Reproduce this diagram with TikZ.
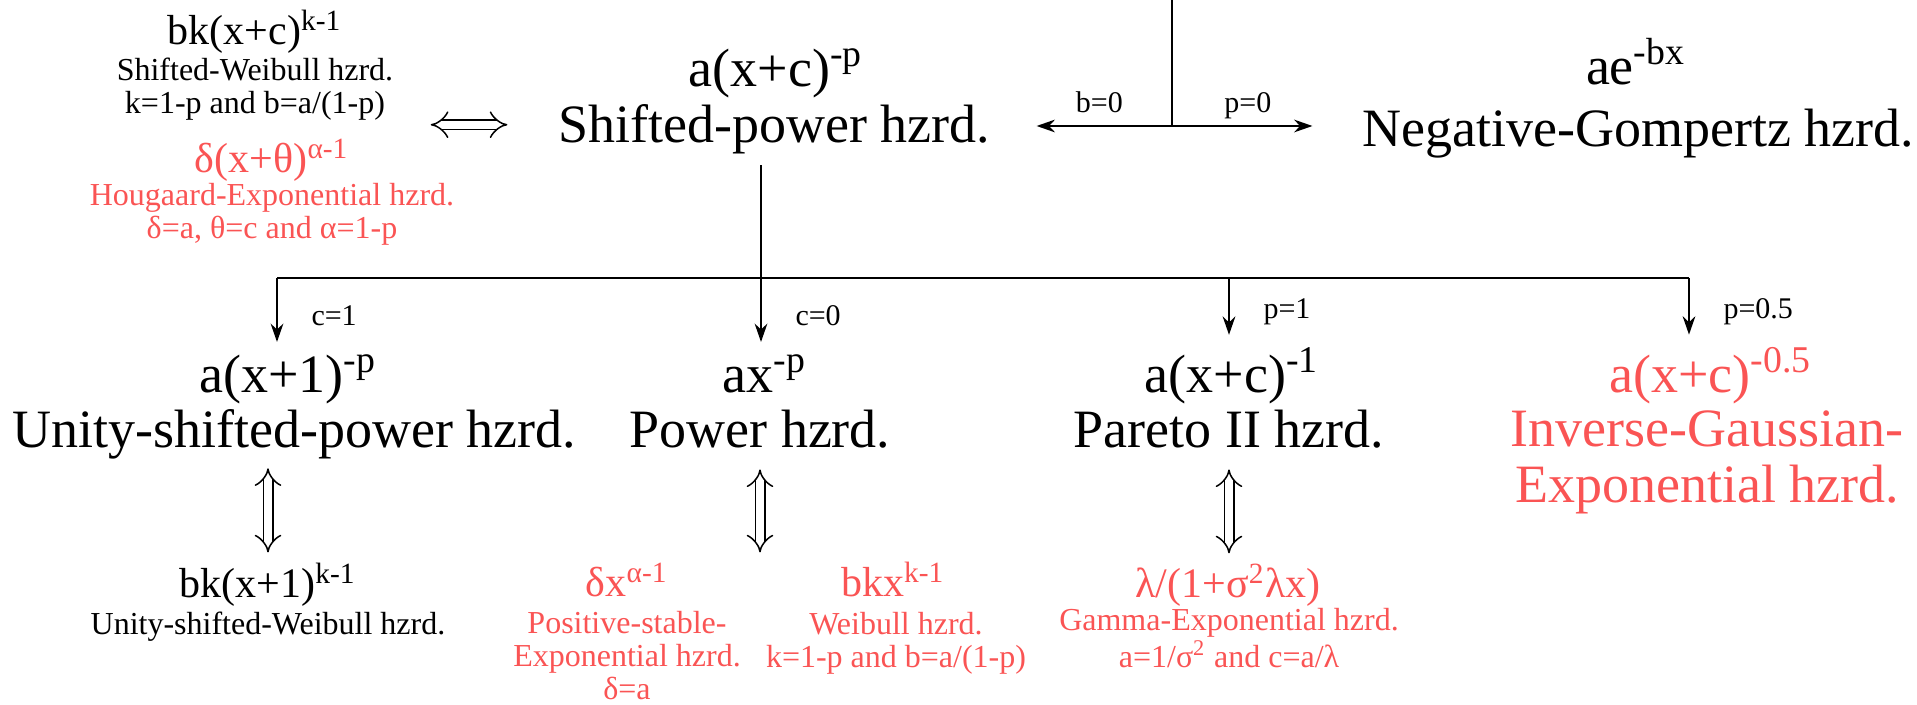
\documentclass[tikz,border=0pt]{standalone}
\usepackage{fontspec}
\setmainfont{Liberation Serif}
\usepackage{xcolor}
\usetikzlibrary{arrows.meta}
\definecolor{hz-red}{RGB}{250,84,84}

\begin{document}
\begin{tikzpicture}[x=0.3pt, y=-0.3pt,
  every node/.style={inner sep=0pt},
  fbig/.style={anchor=base, font=\fontsize{16.2}{16.8}\selectfont},
  fmid/.style={anchor=base, font=\fontsize{12.6}{13}\selectfont},
  fsmall/.style={anchor=base, align=center, font=\fontsize{9.6}{9.9}\selectfont},
  cond/.style={font=\fontsize{9}{10}\selectfont},
  alt/.style={text=hz-red},
  arr/.style={-{Stealth[length=5.5pt,width=3.8pt]}, line width=0.7pt},
  equiv/.style={double, double distance=2.4pt, line width=0.45pt, {Implies}-{Implies}}]
  \useasboundingbox (0,0) rectangle (1917,705);
  % (multi-line nodes sit on the baseline of their last line)

  % Top row
  \node[fmid] (wblf) at (255,45) {bk(x+c)\textsuperscript{k-1}};
  \node[fsmall] (wbl) at (255,114) {Shifted-Weibull hzrd.\\k=1-p and b=a/(1-p)};
  \node[fmid, alt] (hgdf) at (272,173) {δ(x+θ)\textsuperscript{α-1}};
  \node[fsmall, alt] (hgd) at (272,239) {Hougaard-Exponential hzrd.\\δ=a, θ=c and α=1-p};
  \node[fbig] (spf) at (776,87) {a(x+c)\textsuperscript{-p}};
  \node[fbig] (sp) at (774,143) {Shifted-power hzrd.};
  \node[fbig] (ngf) at (1636,85) {ae\textsuperscript{-bx}};
  \node[fbig] (ng) at (1638,147) {Negative-Gompertz hzrd.};

  \coordinate (top) at (1172,0);
  \coordinate (jn) at (1172,126);
  \draw[line width=0.7pt] (top) -- (jn);
  \draw[arr, shorten >=13.8pt] (jn) -- node[cond, pos=0.4, anchor=base, yshift=4pt] {b=0} (sp.east |- jn);
  \draw[arr, shorten >=14.7pt] (jn) -- node[cond, pos=0.4, anchor=base, yshift=4pt] {p=0} (ng.west |- jn);
  \draw[equiv] ([xshift=-38pt, yshift=1.5pt]sp.west) -- ([xshift=-15pt, yshift=1.5pt]sp.west);

  % Middle row
  \node[fbig] (uspf) at (288,393) {a(x+1)\textsuperscript{-p}};
  \node[fbig] (usp) at (294,448) {Unity-shifted-power hzrd.};
  \node[fbig] (pwf) at (765,393) {ax\textsuperscript{-p}};
  \node[fbig] (pw) at (760,448) {Power hzrd.};
  \node[fbig] (paf) at (1232,393) {a(x+c)\textsuperscript{-1}};
  \node[fbig] (pa) at (1229,448) {Pareto II hzrd.};
  \node[fbig, alt] (igf) at (1711,393) {a(x+c)\textsuperscript{-0.5}};
  \node[fbig, alt, align=center] (ig) at (1707,503) {Inverse-Gaussian-\\Exponential hzrd.};

  % Branches
  \coordinate (b1) at (277,278);
  \coordinate (b2) at (761,278);
  \coordinate (b3) at (1229,278);
  \coordinate (b4) at (1689,278);
  \draw[line width=0.7pt, shorten <=3pt] (sp.south -| b2) -- (b2);
  \draw[line width=0.7pt] (b1) -- (b4);
  \draw[arr, shorten >=3.5pt] (b1) -- node[cond, midway, anchor=west, xshift=10pt] {c=1} (b1 |- uspf.north);
  \draw[arr, shorten >=3.5pt] (b2) -- node[cond, midway, anchor=west, xshift=10pt] {c=0} (b2 |- pwf.north);
  \draw[arr, shorten >=3.5pt] (b3) -- node[cond, midway, anchor=west, xshift=10pt] {p=1} (b3 |- paf.north);
  \draw[arr, shorten >=3.5pt] (b4) -- node[cond, midway, anchor=west, xshift=10pt] {p=0.5} (b4 |- igf.north);

  % Bottom row
  \node[fmid] (uwbf) at (268,598) {bk(x+1)\textsuperscript{k-1}};
  \node[fsmall] (uwb) at (268,635) {Unity-shifted-Weibull hzrd.};
  \node[fmid, alt] (psef) at (627,597) {δx\textsuperscript{α-1}};
  \node[fsmall, alt] (pse) at (627,700) {Positive-stable-\\Exponential hzrd.\\δ=a};
  \node[fmid, alt] (wbf) at (893,597) {bkx\textsuperscript{k-1}};
  \node[fsmall, alt] (wb) at (896,668) {Weibull hzrd.\\k=1-p and b=a/(1-p)};
  \node[fmid, alt] (gef) at (1228,598) {λ/(1+σ\textsuperscript{2}λx)};
  \node[fsmall, alt] (ge) at (1229,668) {Gamma-Exponential hzrd.\\a=1/σ\textsuperscript{2} and c=a/λ};

  \draw[equiv, shorten <=2.4pt, shorten >=3pt] (usp.south -| uwbf.north) -- (uwbf.north);
  \draw[equiv, shorten <=6pt, shorten >=2.7pt] (pw.south) -- (pw.south |- wbf.north);
  \draw[equiv, shorten <=6pt, shorten >=3pt] (pa.south) -- (pa.south |- gef.north);
\end{tikzpicture}
\end{document}
